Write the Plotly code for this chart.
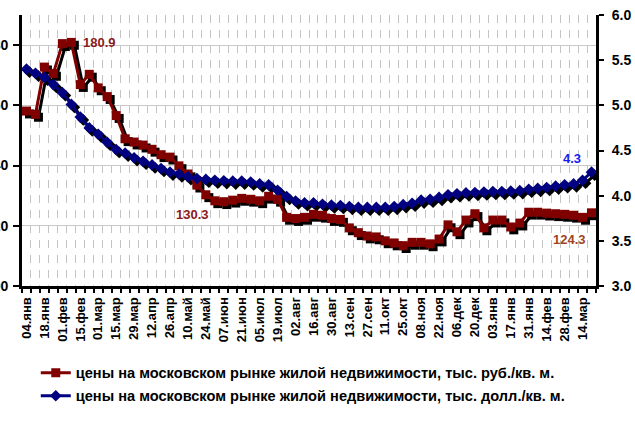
import plotly.graph_objects as go

# ---------- DATA ----------

weeks = [
    "04.янв", "11.янв", "18.янв", "25.янв", "01.фев", "08.фев", "15.фев", "22.фев",
    "01.мар", "08.мар", "15.мар", "22.мар", "29.мар", "05.апр", "12.апр", "19.апр",
    "26.апр", "03.май", "10.май", "17.май", "24.май", "31.май", "07.июн", "14.июн",
    "21.июн", "28.июн", "05.июл", "12.июл", "19.июл", "26.июл", "02.авг", "09.авг",
    "16.авг", "23.авг", "30.авг", "06.сен", "13.сен", "20.сен", "27.сен", "04.окт",
    "11.окт", "18.окт", "25.окт", "01.ноя", "08.ноя", "15.ноя", "22.ноя", "29.ноя",
    "06.дек", "13.дек", "20.дек", "27.дек", "03.янв", "10.янв", "17.янв", "24.янв",
    "31.янв", "07.фев", "14.фев", "21.фев", "28.фев", "07.мар", "14.мар", "21.мар",
]

rub_prices = [
    158.1, 157.0, 172.7, 170.6, 180.5, 180.9, 166.9, 170.3,
    165.8, 162.9, 156.6, 148.9, 147.8, 146.8, 145.4, 143.6,
    142.8, 139.9, 137.2, 133.5, 130.3, 128.3, 128.0, 128.5,
    129.1, 128.8, 128.3, 129.8, 128.8, 122.8, 122.4, 122.8,
    123.8, 123.5, 122.4, 122.1, 119.3, 117.7, 116.6, 116.3,
    115.0, 114.3, 113.4, 114.5, 114.5, 114.0, 115.6, 120.3,
    118.0, 121.9, 124.0, 119.3, 121.9, 121.9, 119.6, 120.9,
    124.5, 124.5, 124.2, 124.0, 123.8, 123.5, 122.8, 124.3,
]

usd_prices = [
    5.40, 5.355, 5.31, 5.23, 5.14, 5.01, 4.87, 4.75,
    4.68, 4.59, 4.51, 4.47, 4.42, 4.38, 4.34, 4.30,
    4.26, 4.24, 4.21, 4.19, 4.18, 4.17, 4.165, 4.16,
    4.16, 4.15, 4.13, 4.12, 4.06, 3.99, 3.94, 3.92,
    3.92, 3.905, 3.895, 3.89, 3.88, 3.87, 3.87, 3.87,
    3.87, 3.88, 3.90, 3.915, 3.95, 3.96, 3.98, 4.01,
    4.02, 4.03, 4.035, 4.04, 4.045, 4.045, 4.05, 4.055,
    4.07, 4.08, 4.09, 4.105, 4.12, 4.13, 4.17, 4.26,
]

left_ticks = [100, 120, 140, 160, 180]
right_ticks = [3.0, 3.5, 4.0, 4.5, 5.0, 5.5, 6.0]

name_rub = "цены на московском рынке жилой недвижимости, тыс. руб./кв. м."
name_usd = "цены на московском рынке жилой недвижимости, тыс. долл./кв. м."

# ---------- STYLE ----------

FONT = "Liberation Sans, Arial, sans-serif"
RED = "#800000"
BLUE = "#000080"

W, H = 635, 424
M_L, M_R, M_T, M_B = 22, 39, 15, 125
PLOT_W = W - M_L - M_R
PLOT_H = H - M_T - M_B

LEFT_RANGE = [100, 190]
RIGHT_RANGE = [3.0, 6.0]
X_RANGE = [-0.5, len(weeks) - 0.5]

# shadow offset, pixels, turned into axis units
SHADOW = 3
dx = SHADOW * len(weeks) / PLOT_W
dyl = SHADOW * (LEFT_RANGE[1] - LEFT_RANGE[0]) / PLOT_H
dyr = SHADOW * (RIGHT_RANGE[1] - RIGHT_RANGE[0]) / PLOT_H

tick_labels = [w if i % 2 == 0 else "" for i, w in enumerate(weeks)]

fig = go.Figure()

# shadows
fig.add_trace(go.Scatter(
    x=weeks, y=rub_prices, xaxis="x", yaxis="y",
    mode="lines+markers",
    line=dict(color="black", width=3),
    marker=dict(symbol="square", size=9, color="black"),
    showlegend=False, hoverinfo="skip"
))
fig.add_trace(go.Scatter(
    x=weeks, y=usd_prices, xaxis="x", yaxis="y3",
    mode="lines+markers",
    line=dict(color="black", width=3),
    marker=dict(symbol="diamond", size=9, color="black"),
    showlegend=False, hoverinfo="skip"
))

# series
fig.add_trace(go.Scatter(
    x=weeks, y=rub_prices, xaxis="x2", yaxis="y2",
    name=name_rub, legend="legend",
    mode="lines+markers",
    line=dict(color=RED, width=3),
    marker=dict(symbol="square", size=9, color=RED)
))
fig.add_trace(go.Scatter(
    x=weeks, y=usd_prices, xaxis="x2", yaxis="y4",
    name=name_usd, legend="legend2",
    mode="lines+markers",
    line=dict(color=BLUE, width=3),
    marker=dict(symbol="diamond", size=9, color=BLUE)
))

axis_font = dict(family=FONT, size=14, color="black", weight="bold")
legend_font = dict(family=FONT, size=14.6, color="black", weight="bold")

fig.update_layout(
    width=W, height=H,
    margin=dict(l=M_L, r=M_R, t=M_T, b=M_B),
    paper_bgcolor="white", plot_bgcolor="white",
    font=dict(family=FONT, color="black"),
    xaxis=dict(range=[X_RANGE[0] - dx, X_RANGE[1] - dx], visible=False),
    yaxis=dict(range=[LEFT_RANGE[0] + dyl, LEFT_RANGE[1] + dyl], visible=False),
    yaxis3=dict(range=[RIGHT_RANGE[0] + dyr, RIGHT_RANGE[1] + dyr],
                overlaying="y", anchor="x", visible=False),
    xaxis2=dict(
        overlaying="x", anchor="y2", side="bottom",
        range=X_RANGE,
        tickmode="array", tickvals=weeks, ticktext=tick_labels,
        tickson="boundaries",
        ticks="outside", ticklen=4, tickwidth=2, tickcolor="black",
        tickangle=-90, ticklabelstandoff=3,
        tickfont=dict(family=FONT, size=13, color="black", weight="bold"),
        showline=True, linewidth=3, linecolor="black",
        showgrid=True, gridcolor="#C4C4C4", gridwidth=1, griddash="8px,7px",
        zeroline=False, automargin=False
    ),
    yaxis2=dict(
        overlaying="y", anchor="x2", side="left",
        range=LEFT_RANGE, tickmode="array", tickvals=left_ticks,
        ticks="outside", ticklen=6, tickwidth=2, tickcolor="black",
        ticklabelstandoff=2, tickfont=axis_font,
        showline=True, linewidth=3, linecolor="black",
        showgrid=True, gridcolor="#C8C8C8", gridwidth=1,
        zeroline=False, automargin=False
    ),
    yaxis4=dict(
        overlaying="y", anchor="x2", side="right",
        range=RIGHT_RANGE, tickmode="array", tickvals=right_ticks,
        tickformat=".1f",
        ticks="outside", ticklen=5, tickwidth=2, tickcolor="black",
        ticklabelstandoff=5, tickfont=axis_font,
        showline=True, linewidth=3, linecolor="black",
        showgrid=False, zeroline=False, automargin=False
    ),
    legend=dict(
        x=0.024, y=-0.32, xanchor="left", yanchor="middle",
        bgcolor="rgba(0,0,0,0)", font=legend_font
    ),
    legend2=dict(
        x=0.024, y=-0.405, xanchor="left", yanchor="middle",
        bgcolor="rgba(0,0,0,0)", font=legend_font
    ),
)

label_font = dict(family=FONT, size=13, weight="bold")

fig.add_annotation(x=weeks[5], y=rub_prices[5], xref="x2", yref="y2",
                   text="180.9", showarrow=False, xanchor="left", xshift=10,
                   font=dict(label_font, color="#8B1A1A"))
fig.add_annotation(x=weeks[20], y=rub_prices[20], xref="x2", yref="y2",
                   text="130.3", showarrow=False, xshift=-13, yshift=-20,
                   font=dict(label_font, color="#8B1A1A"))
fig.add_annotation(x=weeks[-1], y=rub_prices[-1], xref="x2", yref="y2",
                   text="124.3", showarrow=False, xshift=-22, yshift=-27,
                   font=dict(label_font, color="#A0461E"))
fig.add_annotation(x=weeks[-1], y=usd_prices[-1], xref="x2", yref="y4",
                   text="4.3", showarrow=False, xshift=-20, yshift=14,
                   font=dict(label_font, color="#1A1AF0"))

# page margin off, so the figure sits at the window's corner
fig.write_html("out.html", config={"displayModeBar": False},
               post_script="document.body.style.margin='0';")
